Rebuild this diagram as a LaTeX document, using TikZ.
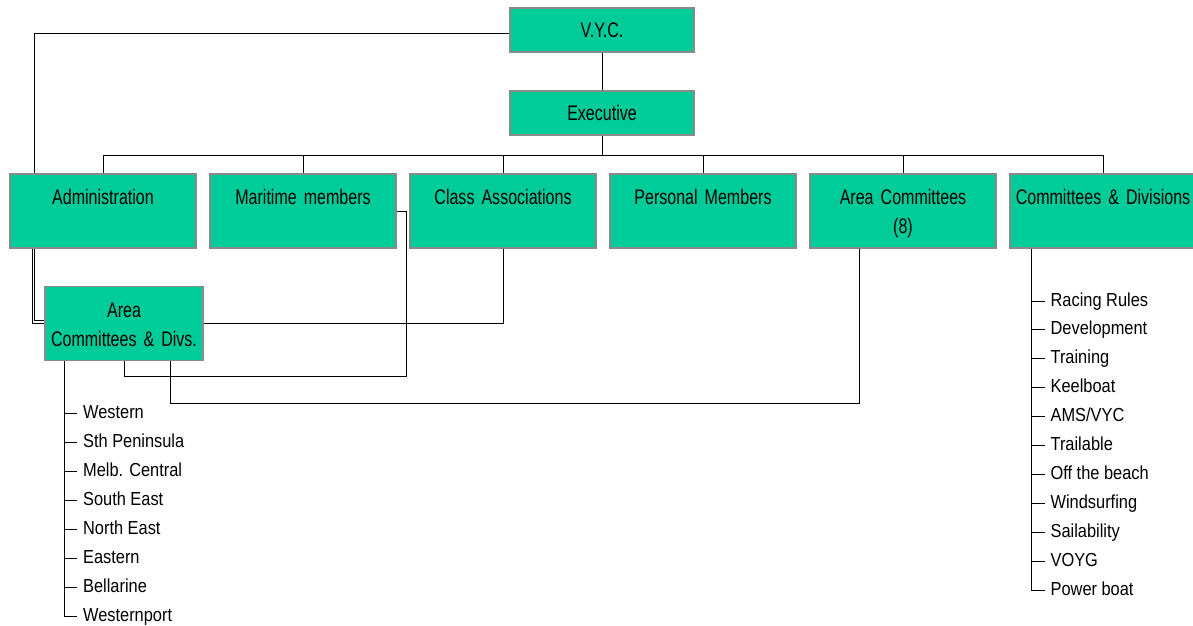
\documentclass[tikz,border=0pt]{standalone}
\usepackage{fontspec}
\setmainfont{Liberation Sans}[FakeStretch=0.87]
\newfontfamily\boxfont{Liberation Sans}[FakeStretch=0.76]
\usetikzlibrary{calc}
\definecolor{boxgreen}{HTML}{00CC99}
\definecolor{edgegray}{HTML}{8A8A8A}
\tikzset{
  every picture/.style={x=0.025cm, y=-0.025cm, font=\fontsize{13.4}{20.5}\selectfont, line width=0.7pt},
  headbox/.style={draw=edgegray, fill=boxgreen, line width=0.9pt, minimum width=4.6cm, minimum height=1.1cm, inner sep=0pt, font=\boxfont\fontsize{15}{20.5}\selectfont},
  orgbox/.style={draw=edgegray, fill=boxgreen, line width=0.9pt, text width=4.65cm, align=center, inner sep=0pt, text height=0.77cm, text depth=1.08cm, font=\boxfont\fontsize{15}{20.5}\selectfont},
  listitem/.style={anchor=west, text height=0.9em, text depth=0.18em, inner sep=4pt},
}

\begin{document}
\begin{tikzpicture}
\useasboundingbox (0,0) rectangle (1193,626);
% top of the tree
\node[headbox] (vyc) at (602,30) {V.Y.C.};
\node[headbox] (exec) at (602,113) {Executive};
% second row
\node[orgbox] (admin) at (103,211) {Administration};
\node[orgbox] (maritime) at (303,211) {Maritime members};
\node[orgbox] (classassoc) at (503,211) {Class Associations};
\node[orgbox] (personal) at (703,211) {Personal Members};
\node[orgbox] (areacom) at (903,211) {Area Committees\\(8)};
\node[orgbox] (comdiv) at (1103,211) {Committees \& Divisions};
\node[orgbox, text width=3.95cm] (areadivs) at (124,323.5) {Area\\Committees \& Divs.};
% links
\draw (vyc.south) -- (exec.north);
\coordinate (bus) at ($(exec.south)+(0,20)$);
\draw (exec.south) -- (bus);
\foreach \n in {admin,maritime,classassoc,personal,areacom,comdiv}
  \draw (\n.north) |- (bus);
\draw ($(vyc.west)+(0,3)$) -| ($(admin.north west)+(25,0)$);
\draw ($(admin.south west)+(23,0)$) |- ($(areadivs.west)+(0,-0.5)$);
\draw ($(admin.south west)+(25,0)$) |- ($(areadivs.west)+(0,-3.5)$);
\draw (classassoc.south) |- (areadivs.east);
\draw (maritime.east) -- ++(10,0) |- ($(areadivs.south)+(0,15)$) -- (areadivs.south);
\draw ($(areacom.south west)+(50,0)$) |- ($(areadivs.south)+(46,42)$) -- ($(areadivs.south)+(46,0)$);
% area list
\foreach \name [count=\i] in {Western,Sth Peninsula,Melb. Central,South East,North East,Eastern,Bellarine,Westernport}
  \node[listitem] (area\i) at (77,{384+29*\i}) {\name};
\coordinate (aspine) at ($(areadivs.south west)+(20,0)$);
\draw (aspine) |- (area8.west);
\foreach \i in {1,...,7}
  \draw (area\i.west -| aspine) -- (area\i.west);
% committees list
\foreach \name [count=\i] in {Racing Rules,Development,Training,Keelboat,AMS/VYC,Trailable,Off the beach,Windsurfing,Sailability,VOYG,Power boat}
  \node[listitem] (cd\i) at (1044.5,{272.1+28.9*\i}) {\name};
\coordinate (cspine) at ($(comdiv.south west)+(22,0)$);
\draw (cspine) |- (cd11.west);
\foreach \i in {1,...,10}
  \draw (cd\i.west -| cspine) -- (cd\i.west);
\end{tikzpicture}
\end{document}
